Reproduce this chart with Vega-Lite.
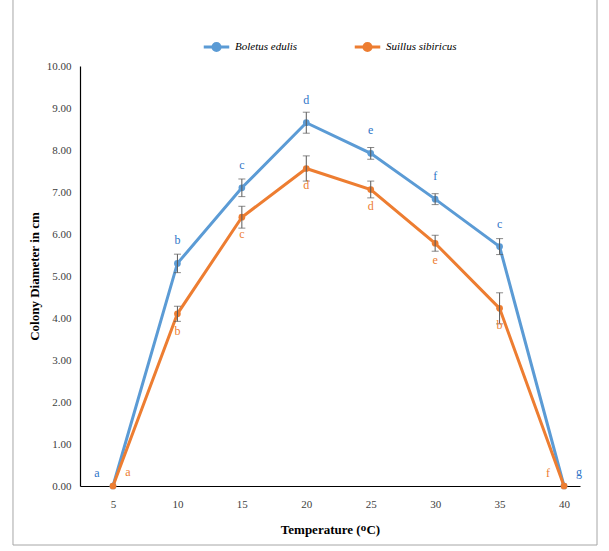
{
  "$schema": "https://vega.github.io/schema/vega-lite/v6.json",
  "width": 500,
  "height": 420,
  "autosize": {"type": "none"},
  "padding": {"left": 80, "top": 66, "right": 29, "bottom": 65},
  "background": "white",
  "config": {
    "view": {"stroke": null},
    "font": "Liberation Serif",
    "axis": {"grid": false, "ticks": false, "domainColor": "#000000", "domainWidth": 1.2, "labelFont": "Liberation Serif", "labelFontSize": 11, "labelColor": "#404040", "titleFont": "Liberation Serif", "titleFontSize": 13, "titleFontWeight": "bold", "titleColor": "#000000"}
  },
  "data": {
    "values": [
      {"temp": 5, "species": "Boletus edulis", "mean": 0, "err": 0, "letter": "a"},
      {"temp": 10, "species": "Boletus edulis", "mean": 5.30, "err": 0.22, "letter": "b"},
      {"temp": 15, "species": "Boletus edulis", "mean": 7.10, "err": 0.21, "letter": "c"},
      {"temp": 20, "species": "Boletus edulis", "mean": 8.65, "err": 0.25, "letter": "d"},
      {"temp": 25, "species": "Boletus edulis", "mean": 7.92, "err": 0.14, "letter": "e"},
      {"temp": 30, "species": "Boletus edulis", "mean": 6.83, "err": 0.13, "letter": "f"},
      {"temp": 35, "species": "Boletus edulis", "mean": 5.70, "err": 0.19, "letter": "c"},
      {"temp": 40, "species": "Boletus edulis", "mean": 0, "err": 0, "letter": "g"},
      {"temp": 5, "species": "Suillus sibiricus", "mean": 0, "err": 0, "letter": "a"},
      {"temp": 10, "species": "Suillus sibiricus", "mean": 4.10, "err": 0.18, "letter": "b"},
      {"temp": 15, "species": "Suillus sibiricus", "mean": 6.40, "err": 0.26, "letter": "c"},
      {"temp": 20, "species": "Suillus sibiricus", "mean": 7.56, "err": 0.30, "letter": "d"},
      {"temp": 25, "species": "Suillus sibiricus", "mean": 7.06, "err": 0.20, "letter": "d"},
      {"temp": 30, "species": "Suillus sibiricus", "mean": 5.78, "err": 0.19, "letter": "e"},
      {"temp": 35, "species": "Suillus sibiricus", "mean": 4.23, "err": 0.37, "letter": "b"},
      {"temp": 40, "species": "Suillus sibiricus", "mean": 0, "err": 0, "letter": "f"}
    ]
  },
  "encoding": {
    "x": {"field": "temp", "type": "quantitative", "scale": {"domain": [2.44, 41.24], "nice": false, "zero": false},
      "axis": {"values": [5, 10, 15, 20, 25, 30, 35, 40], "title": "Temperature (ᴼC)", "labelPadding": 12, "titlePadding": 14}},
    "y": {"field": "mean", "type": "quantitative", "scale": {"domain": [0, 10], "nice": false},
      "axis": {"values": [0, 1, 2, 3, 4, 5, 6, 7, 8, 9, 10], "format": ".2f", "title": "Colony Diameter in cm", "labelPadding": 9, "titlePadding": 5}}
  },
  "layer": [
    {
      "data": {"values": [{"x1": -2.76, "x2": 42.56, "y1": -1.405, "y2": 11.67}]},
      "mark": {"type": "rect", "fill": null, "fillOpacity": 0, "stroke": "#a6a6a6", "strokeWidth": 1},
      "encoding": {
        "x": {"field": "x1", "type": "quantitative"},
        "x2": {"field": "x2"},
        "y": {"field": "y1", "type": "quantitative"},
        "y2": {"field": "y2"}
      }
    },
    {
      "mark": {"type": "line", "strokeWidth": 3},
      "encoding": {
        "color": {"field": "species", "type": "nominal",
          "scale": {"domain": ["Boletus edulis", "Suillus sibiricus"], "range": ["#5B9BD5", "#ED7D31"]},
          "legend": {"title": null, "orient": "none", "legendX": 122, "legendY": -34, "direction": "horizontal",
            "labelFont": "Liberation Serif", "labelFontStyle": "italic", "labelFontSize": 11, "labelColor": "#000000",
            "symbolType": "M-1,0L1,0M0.28,0A0.28,0.28 0 1,1 -0.28,0A0.28,0.28 0 1,1 0.28,0",
            "symbolSize": 650, "symbolStrokeWidth": 3, "columnPadding": 50, "labelOffset": 4}
        }
      }
    },
    {
      "mark": {"type": "point", "filled": true, "size": 45, "opacity": 1},
      "encoding": {"color": {"field": "species", "type": "nominal"}}
    },
    {
      "transform": [{"filter": "datum.err > 0"}],
      "mark": {"type": "errorbar", "ticks": {"size": 7, "color": "#595959"}, "rule": {"color": "#595959"}, "thickness": 1},
      "encoding": {
        "y": {"field": "mean", "type": "quantitative"},
        "yError": {"field": "err"}
      }
    },
    {
      "transform": [{"filter": "datum.species == 'Boletus edulis' && datum.temp >= 10 && datum.temp <= 35"}],
      "mark": {"type": "text", "font": "Liberation Serif", "fontSize": 12, "dy": -23},
      "encoding": {"text": {"field": "letter"}, "color": {"value": "#2E75C8"}}
    },
    {
      "transform": [{"filter": "datum.species == 'Suillus sibiricus' && datum.temp >= 10 && datum.temp <= 35"}],
      "mark": {"type": "text", "font": "Liberation Serif", "fontSize": 12, "dy": 17},
      "encoding": {"text": {"field": "letter"}, "color": {"value": "#ED7D31"}}
    },
    {
      "transform": [{"filter": "(datum.species == 'Boletus edulis' && datum.temp == 5) || (datum.species == 'Suillus sibiricus' && datum.temp == 40)"}],
      "mark": {"type": "text", "font": "Liberation Serif", "fontSize": 12, "dx": -16, "dy": -13},
      "encoding": {"text": {"field": "letter"},
        "color": {"condition": {"test": "datum.species == 'Boletus edulis'", "value": "#2E75C8"}, "value": "#ED7D31"}}
    },
    {
      "transform": [{"filter": "(datum.species == 'Suillus sibiricus' && datum.temp == 5) || (datum.species == 'Boletus edulis' && datum.temp == 40)"}],
      "mark": {"type": "text", "font": "Liberation Serif", "fontSize": 12, "dx": 15, "dy": -14},
      "encoding": {"text": {"field": "letter"},
        "color": {"condition": {"test": "datum.species == 'Boletus edulis'", "value": "#2E75C8"}, "value": "#ED7D31"}}
    }
  ]
}
